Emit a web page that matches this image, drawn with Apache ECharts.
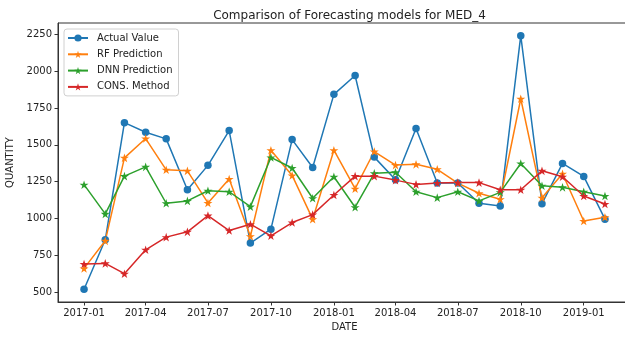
<!DOCTYPE html>
<html>
<head>
<meta charset="utf-8">
<script src="https://cdn.jsdelivr.net/npm/echarts@6/dist/echarts.min.js"></script>
<style>
  html, body { margin: 0; padding: 0; background: #fff; }
  #chart { width: 625px; height: 337px; }
</style>
</head>
<body>
<div id="chart"></div>
<script>
// Monthly observations for MED_4
const months = [
  '2017-01','2017-02','2017-03','2017-04','2017-05','2017-06','2017-07','2017-08',
  '2017-09','2017-10','2017-11','2017-12','2018-01','2018-02','2018-03','2018-04',
  '2018-05','2018-06','2018-07','2018-08','2018-09','2018-10','2018-11','2018-12',
  '2019-01','2019-02'
];
const actualValue = [520, 856, 1651, 1586, 1541, 1196, 1361, 1597, 834, 928, 1536, 1347, 1843,
                     1971, 1417, 1264, 1611, 1241, 1241, 1104, 1086, 2241, 1101, 1374, 1286, 996];
const rfPrediction = [662, 849, 1412, 1543, 1331, 1324, 1106, 1268, 880, 1464, 1293, 996, 1464,
                      1203, 1455, 1363, 1368, 1334, 1241, 1172, 1131, 1813, 1142, 1304, 984, 1009];
const dnnPrediction = [1230, 1032, 1288, 1351, 1104, 1120, 1189, 1182, 1081, 1415, 1343, 1138, 1284,
                       1077, 1307, 1314, 1182, 1142, 1182, 1120, 1178, 1374, 1223, 1212, 1182, 1153];
const consMethod = [692, 696, 626, 788, 874, 910, 1020, 919, 962, 883, 973, 1027, 1160,
                    1288, 1288, 1261, 1232, 1241, 1244, 1244, 1196, 1196, 1324, 1284, 1153, 1099];

const xTickLabels = ['2017-01','2017-04','2017-07','2017-10','2018-01','2018-04','2018-07','2018-10','2019-01'];
const yTickValues = [500, 750, 1000, 1250, 1500, 1750, 2000, 2250];

const toTime = s => { const [y, m] = s.split('-').map(Number); return Date.UTC(y, m - 1, 1); };
const fmtMonth = t => { const d = new Date(t); return d.getUTCFullYear() + '-' + String(d.getUTCMonth() + 1).padStart(2, '0'); };

const times = months.map(toTime);
const xTicks = xTickLabels.map(toTime);

// 5% padding on both axes
const span = times[times.length - 1] - times[0];
const xMin = times[0] - span * 0.05;
const xMax = times[times.length - 1] + span * 0.05;
const allVals = actualValue.concat(rfPrediction, dnnPrediction, consMethod);
const vMin = Math.min(...allVals), vMax = Math.max(...allVals);
const yMin = vMin - (vMax - vMin) * 0.05;
const yMax = vMax + (vMax - vMin) * 0.05;

const STAR = 'path://M0,-100 L22.45,-30.9 L95.1,-30.9 L36.3,11.8 L58.8,80.9 L0,38.2 L-58.8,80.9 L-36.3,11.8 L-95.1,-30.9 L-22.45,-30.9 Z';
const FONT = 'DejaVu Sans';

function lineSeries(name, values, color, symbol, size) {
  return {
    name, type: 'line',
    data: values.map((v, i) => [times[i], v]),
    symbol, symbolSize: size,
    showAllSymbol: true,
    lineStyle: { color, width: 1.5 },
    itemStyle: { color, borderWidth: 0 },
    emphasis: { disabled: true },
    animation: false
  };
}

const chart = echarts.init(document.getElementById('chart'), null, { renderer: 'canvas' });
chart.setOption({
  backgroundColor: '#fff',
  animation: false,
  textStyle: { fontFamily: FONT },
  title: {
    text: 'Comparison of Forecasting models for MED_4',
    left: 344.5, textAlign: 'center', top: 5,
    textStyle: { fontFamily: FONT, fontSize: 12, fontWeight: 'normal', color: '#222' }
  },
  grid: {
    left: 58, top: 23, width: 573, height: 279,
    outerBoundsMode: 'none', containLabel: false,
    show: true, borderColor: '#333', borderWidth: 1, backgroundColor: 'transparent'
  },
  legend: {
    orient: 'vertical', left: 64, top: 29,
    padding: [4, 6, 4, 3],
    itemWidth: 20, itemHeight: 9, itemGap: 6.3,
    backgroundColor: 'rgba(255,255,255,0.8)',
    borderColor: '#d0d0d0', borderWidth: 1, borderRadius: 3,
    textStyle: { fontFamily: FONT, fontSize: 10, color: '#222', padding: [0, 0, 0, 4] },
    data: ['Actual Value', 'RF Prediction', 'DNN Prediction', 'CONS. Method']
  },
  xAxis: {
    type: 'value', min: xMin, max: xMax,
    name: 'DATE', nameLocation: 'middle', nameGap: 20,
    nameTextStyle: { fontFamily: FONT, fontSize: 10, color: '#222' },
    axisLine: { show: true, lineStyle: { color: '#333', width: 1 } },
    axisTick: { show: true, length: 3.5, customValues: xTicks, lineStyle: { color: '#333' } },
    axisLabel: { customValues: xTicks, formatter: v => fmtMonth(v), margin: 6,
                 fontFamily: FONT, fontSize: 10, color: '#222' },
    splitLine: { show: false }
  },
  yAxis: {
    type: 'value', min: yMin, max: yMax,
    name: 'QUANTITY', nameLocation: 'middle', nameGap: 34, nameRotate: 90,
    nameTextStyle: { fontFamily: FONT, fontSize: 10, color: '#222' },
    axisLine: { show: true, lineStyle: { color: '#333', width: 1 } },
    axisTick: { show: true, length: 3.5, customValues: yTickValues, lineStyle: { color: '#333' } },
    axisLabel: { customValues: yTickValues, formatter: v => String(v), margin: 6,
                 fontFamily: FONT, fontSize: 10, color: '#222' },
    splitLine: { show: false }
  },
  series: [
    lineSeries('Actual Value', actualValue, '#1f77b4', 'circle', 7.5),
    lineSeries('RF Prediction', rfPrediction, '#ff7f0e', STAR, [9, 8.6]),
    lineSeries('DNN Prediction', dnnPrediction, '#2ca02c', STAR, [9, 8.6]),
    lineSeries('CONS. Method', consMethod, '#d62728', STAR, [9, 8.6])
  ]
});
</script>
</body>
</html>
